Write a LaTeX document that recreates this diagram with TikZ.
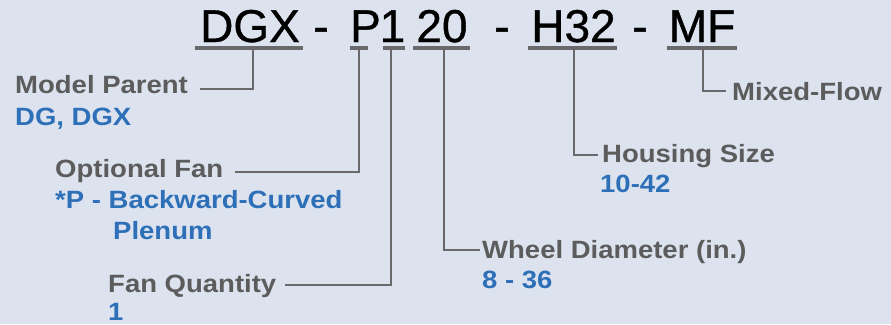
\documentclass[tikz,border=0pt]{standalone}
\usepackage{fontspec}
\newfontfamily\titlefont{Liberation Sans}[FakeBold=0.8]
\newfontfamily\labfont{Liberation Sans Bold}[FakeStretch=1.1]
\definecolor{bgcol}{RGB}{220,227,239}
\definecolor{labgray}{RGB}{92,92,92}
\definecolor{valblue}{RGB}{46,112,184}
\definecolor{linegray}{RGB}{105,105,108}
\tikzset{
  ttl/.style={anchor=base,inner sep=0pt,text=black,font=\titlefont\fontsize{46}{50}\selectfont},
  lab/.style={anchor=base west,inner sep=0pt,text=labgray,font=\labfont\fontsize{25}{28}\selectfont},
  val/.style={lab,text=valblue},
  ubar/.style={draw=linegray,line width=4pt},
  conn/.style={draw=linegray,line width=2.6pt}
}
\begin{document}
\begin{tikzpicture}[x=1pt,y=-1pt]
\useasboundingbox (0,0) rectangle (891,324);
\fill[bgcol] (0,0) rectangle (891,324);
% title code
\node[ttl] (dgx) at (250,42) {DGX};
\node[ttl] (d1) at (321,42) {-};
\node[ttl] (p) at (365.5,42) {P};
\node[ttl] (one) at (392.5,42) {1};
\node[ttl] (twenty) at (442,42) {20};
\node[ttl] (d2) at (502,42) {-};
\node[ttl] (h32) at (573.5,42) {H32};
\node[ttl] (d3) at (640,42) {-};
\node[ttl] (mf) at (702,42) {MF};
% underlines
\coordinate (dgxL) at (195,48); \coordinate (dgxR) at (303,48);
\coordinate (pL) at (350,48); \coordinate (pR) at (368,48);
\coordinate (oneL) at (383,48); \coordinate (oneR) at (405,48);
\coordinate (twL) at (413,48); \coordinate (twR) at (470,48);
\coordinate (hL) at (528,48); \coordinate (hR) at (617,48);
\coordinate (mfL) at (667,48); \coordinate (mfR) at (737,48);
\draw[ubar] (dgxL) -- (dgxR);
\draw[ubar] (pL) -- (pR);
\draw[ubar] (oneL) -- (oneR);
\draw[ubar] (twL) -- (twR);
\draw[ubar] (hL) -- (hR);
\draw[ubar] (mfL) -- (mfR);
% labels
\node[lab] (mp) at (15,93) {Model Parent};
\node[val] (mpv) at (15,125) {DG, DGX};
\node[lab] (of) at (55,177) {Optional Fan};
\node[val] (ofv) at (55,208) {*P - Backward-Curved};
\node[val] (ofv2) at (113,239) {Plenum};
\node[lab] (fq) at (108,292) {Fan Quantity};
\node[val] (fqv) at (108,320) {1};
\node[lab] (wd) at (482,258) {Wheel Diameter (in.)};
\node[val] (wdv) at (482,288) {8 - 36};
\node[lab] (hs) at (602,162) {Housing Size};
\node[val] (hsv) at (600,192) {10-42};
\node[lab] (mx) at (732,100) {Mixed-Flow};
% connectors
\coordinate (dgxS) at (253,48); \coordinate (mpE) at (200,89);
\coordinate (pS) at (359,48); \coordinate (ofE) at (235,172);
\coordinate (oneS) at (391,48); \coordinate (fqE) at (285,285);
\coordinate (twS) at (444,48); \coordinate (wdE) at (480,250);
\coordinate (hS) at (574,48); \coordinate (hsE) at (598,155);
\coordinate (mfS) at (703,48); \coordinate (mxE) at (726,91);
\draw[conn] (dgxS) |- (mpE);
\draw[conn] (pS) |- (ofE);
\draw[conn] (oneS) |- (fqE);
\draw[conn] (twS) |- (wdE);
\draw[conn] (hS) |- (hsE);
\draw[conn] (mfS) |- (mxE);
\end{tikzpicture}
\end{document}
